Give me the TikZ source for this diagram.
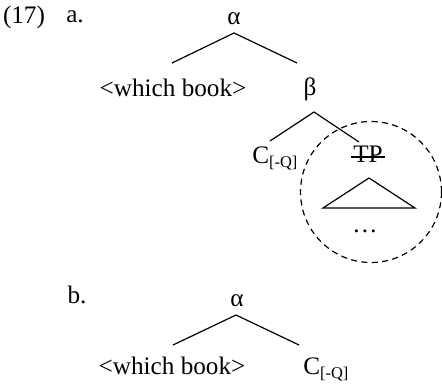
\documentclass[tikz,border=0pt]{standalone}
\usepackage{fontspec}
\setmainfont{Liberation Serif}
\begin{document}
\begin{tikzpicture}[x=0.5pt,y=-0.5pt,
  lbl/.style={inner sep=0pt, font=\fontsize{12.6}{14}\selectfont},
  subs/.style={},
  edge/.style={line width=0.6pt},
  circ/.style={line width=0.6pt, dash pattern=on 3pt off 2.2pt}]
\useasboundingbox (0,0) rectangle (442,384);
% example (a)
\node[lbl] (ex) at (24,17) {(17)};
\node[lbl] (la) at (75,17) {a.};
\node[lbl] (alphaA) at (234,19) {α};
\node[lbl] (wbA) at (173,88) {<which book>};
\node[lbl] (beta) at (310,89) {β};
\node[lbl, anchor=base west] (CA) at (252,163) {C\raisebox{-0.4ex}{\fontsize{8.2}{9}\selectfont[-Q]}};
\node[lbl] (TP) at (368,154) {TP};
\node[lbl] (dots) at (365,231) {\dots};
\coordinate (aT) at (234,33);
\coordinate (aL) at (172,63);
\coordinate (aR) at (297,63);
\coordinate (bT) at (314,112);
\coordinate (bL) at (270,141);
\coordinate (bR) at (359,142);
\draw[edge] (aL) -- (aT) -- (aR);
\draw[edge] (bL) -- (bT) -- (bR);
\path (TP.west) ++(-2,3) coordinate (sL) (TP.east) ++(2,3) coordinate (sR);
\draw[edge] (sL) -- (sR);
\coordinate (tA) at (369,178);
\coordinate (tL) at (323,208);
\coordinate (tR) at (415,208);
\draw[edge] (tA) -- (tL) -- (tR) -- cycle;
\coordinate (cc) at (371,192);
\draw[circ] (cc) circle[radius=70.5];
% example (b)
\node[lbl] (lb) at (77,295) {b.};
\node[lbl] (alphaB) at (237,301) {α};
\node[lbl] (wbB) at (172,366) {<which book>};
\node[lbl, anchor=base west] (CB) at (303,374) {C\raisebox{-0.4ex}{\fontsize{8.2}{9}\selectfont[-Q]}};
\coordinate (cT) at (236,315);
\coordinate (cL) at (173,345);
\coordinate (cR) at (299,345);
\draw[edge] (cL) -- (cT) -- (cR);
\end{tikzpicture}
\end{document}
